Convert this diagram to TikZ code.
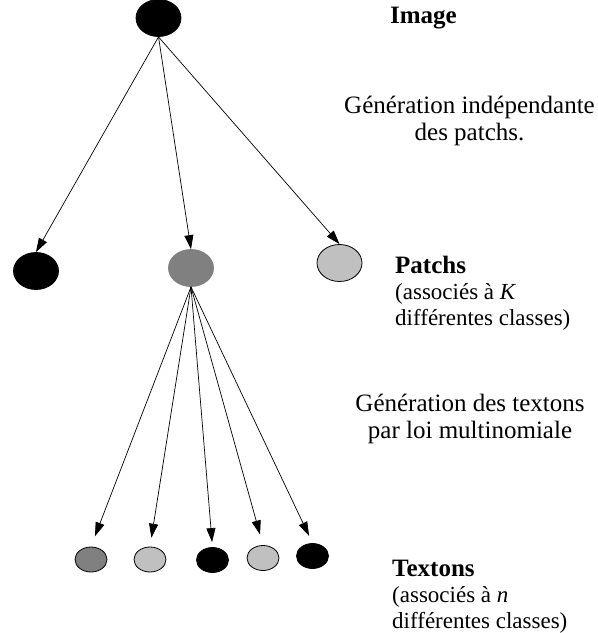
\documentclass[tikz,border=0pt]{standalone}
\usepackage{fontspec}
\setmainfont{Liberation Serif}
\usetikzlibrary{arrows.meta, positioning, shapes.geometric}
\definecolor{patchgray}{HTML}{808080}
\definecolor{patchlight}{HTML}{C0C0C0}

\begin{document}
\begin{tikzpicture}[x=1pt, y=-1pt,
    blob/.style={ellipse, draw=black, line width=0.8pt, inner sep=0pt},
    bigblob/.style={blob, minimum width=45pt, minimum height=37pt},
    smallblob/.style={blob, minimum width=32pt, minimum height=25pt},
    arr/.style={-{Triangle[length=14pt, width=9pt]}, line width=0.7pt},
    lbl/.style={font=\fontsize{25}{27}\selectfont, align=center, inner sep=0pt},
    note/.style={font=\fontsize{23}{26}\selectfont, align=left, inner sep=0pt}]
    \useasboundingbox (0,0) rectangle (598,633);

    % Image
    \node[bigblob, fill=black] (img) at (158.5,18) {};
    \node[lbl, anchor=base] (imglbl) at (423.5,23) {\textbf{Image}};

    % Patches
    \node[bigblob, fill=black] (p1) at (36,271) {};
    \node[bigblob, fill=patchgray, draw=patchgray] (p2) at (191,268) {};
    \node[bigblob, fill=patchlight] (p3) at (339.5,263) {};

    \draw[arr] (img.south) -- (p1.north);
    \draw[arr] (img.south) -- (p2.north);
    \draw[arr] (img.south) -- (p3.north);
    \node[lbl, anchor=base] (gen1) at (469.5,140) {Génération indépendante\\des patchs.};

    \node[note, anchor=base west] (patchlbl) at (395,325)
        {\fontsize{25}{27}\selectfont\textbf{Patchs}\\(associés à \textit{K}\\différentes classes)};

    % Textons
    \node[smallblob, fill=patchgray] (t1) at (91,559.5) {};
    \node[smallblob, fill=patchlight] (t2) at (150,559.5) {};
    \node[smallblob, fill=black] (t3) at (212.5,560) {};
    \node[smallblob, fill=patchlight] (t4) at (263,558) {};
    \node[smallblob, fill=black] (t5) at (312.5,556) {};

    \foreach \t/\gap in {t1/11pt, t2/9pt, t3/5pt, t4/11pt, t5/8pt}
        \draw[arr, shorten >=\gap] (p2.south) -- (\t.north);
    \node[lbl, anchor=base] (gen2) at (470,438) {Génération des textons\\par loi multinomiale};

    \node[note, anchor=base west] (textonlbl) at (392,628)
        {\fontsize{25}{27}\selectfont\textbf{Textons}\\(associés à \textit{n}\\différentes classes)};
\end{tikzpicture}
\end{document}
